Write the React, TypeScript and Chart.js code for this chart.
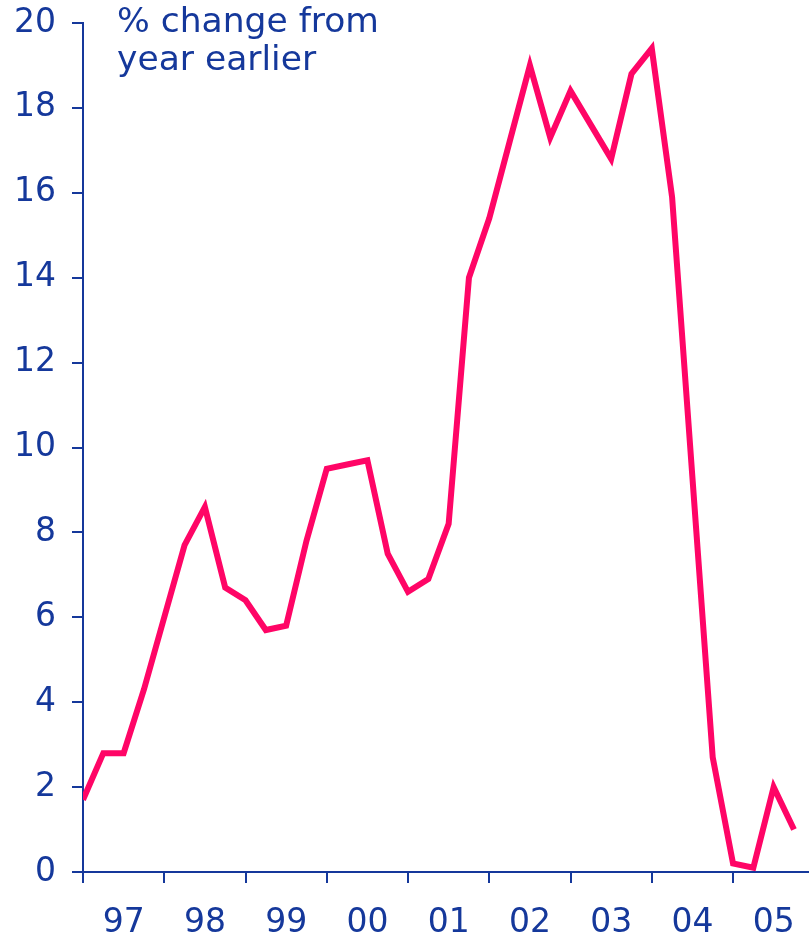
import React, { useEffect, useRef } from "react";
import { Chart, registerables } from "chart.js";

Chart.register(...registerables);

const yearLabels = ["97", "98", "99", "00", "01", "02", "03", "04", "05"];
// quarterly values, % change from year earlier (Q1 1997 .. Q4 2005)
const values = [
  1.7, 2.8, 2.8, 4.3,
  6.0, 7.7, 8.6, 6.7,
  6.4, 5.7, 5.8, 7.8,
  9.5, 9.6, 9.7, 7.5,
  6.6, 6.9, 8.2, 14.0,
  15.4, 17.2, 19.0, 17.3,
  18.4, 17.6, 16.8, 18.8,
  19.4, 15.9, 9.3, 2.7,
  0.2, 0.1, 2.0, 1.0,
];
const yMin = 0;
const yMax = 20;
const yStep = 2;
const titleLines = ["% change from", "year earlier"];

const BLUE = "#15389b";
const RED = "#ff0566";
const FONT = "'DejaVu Sans', Verdana, sans-serif";

export default function App() {
  const ref = useRef<HTMLCanvasElement | null>(null);

  useEffect(() => {
    if (!ref.current) return;
    const titlePlugin = {
      id: "titleText",
      afterDraw(chart: any) {
        const c = chart.ctx;
        const area = chart.chartArea;
        c.save();
        c.fillStyle = BLUE;
        c.font = `34.5px ${FONT}`;
        c.textAlign = "left";
        c.textBaseline = "alphabetic";
        titleLines.forEach((t, i) => {
          c.fillText(t, area.left + 34, 32 + i * 38);
        });
        c.restore();
      },
    };
    const chart = new Chart(ref.current, {
      type: "line",
      data: {
        datasets: [
          {
            data: values.map((v, i) => ({ x: i, y: v })),
            borderColor: RED,
            borderWidth: 6,
            pointRadius: 0,
            borderJoinStyle: "miter",
            tension: 0,
            fill: false,
          },
        ],
      },
      options: {
        animation: false,
        responsive: false,
        devicePixelRatio: 1,
        layout: { padding: { top: 23, right: 0, left: 0, bottom: 0 } },
        plugins: { legend: { display: false }, tooltip: { enabled: false }, title: { display: false } },
        scales: {
          x: {
            type: "linear",
            min: 0,
            max: 35.74,
            afterBuildTicks: (scale: any) => {
              const t: any[] = [];
              for (let v = 0; v <= yearLabels.length * 4 - 2; v += 2) t.push({ value: v });
              scale.ticks = t;
            },
            afterFit: (scale: any) => {
              scale.height = 65;
              scale.paddingLeft = 0;
              scale.paddingRight = 0;
            },
            grid: {
              drawOnChartArea: false,
              drawTicks: true,
              tickLength: 11,
              lineWidth: 2,
              color: (ctx: any) =>
                ctx.tick && ctx.tick.value % 4 === 0 ? BLUE : "rgba(0,0,0,0)",
            },
            border: { display: true, color: BLUE, width: 2 },
            ticks: {
              autoSkip: false,
              maxRotation: 0,
              padding: 21,
              color: BLUE,
              font: { family: FONT, size: 33 },
              callback: (v: any) => {
                const n = Number(v);
                return n % 4 === 2 ? yearLabels[(n - 2) / 4] : "";
              },
            },
          },
          y: {
            min: yMin,
            max: yMax,
            afterFit: (scale: any) => {
              scale.width = 83;
              scale.paddingTop = 0;
              scale.paddingBottom = 0;
            },
            grid: {
              drawOnChartArea: false,
              drawTicks: true,
              tickLength: 11,
              lineWidth: 2,
              color: BLUE,
            },
            border: { display: true, color: BLUE, width: 2 },
            ticks: {
              stepSize: yStep,
              padding: 16,
              color: BLUE,
              font: { family: FONT, size: 33 },
            },
          },
        },
      },
      plugins: [titlePlugin],
    } as any);
    return () => chart.destroy();
  }, []);

  return (
    <div style={{ position: "absolute", left: 0, top: 0, width: 809, height: 937, background: "#fff" }}>
      <canvas ref={ref} width={809} height={937} />
    </div>
  );
}
